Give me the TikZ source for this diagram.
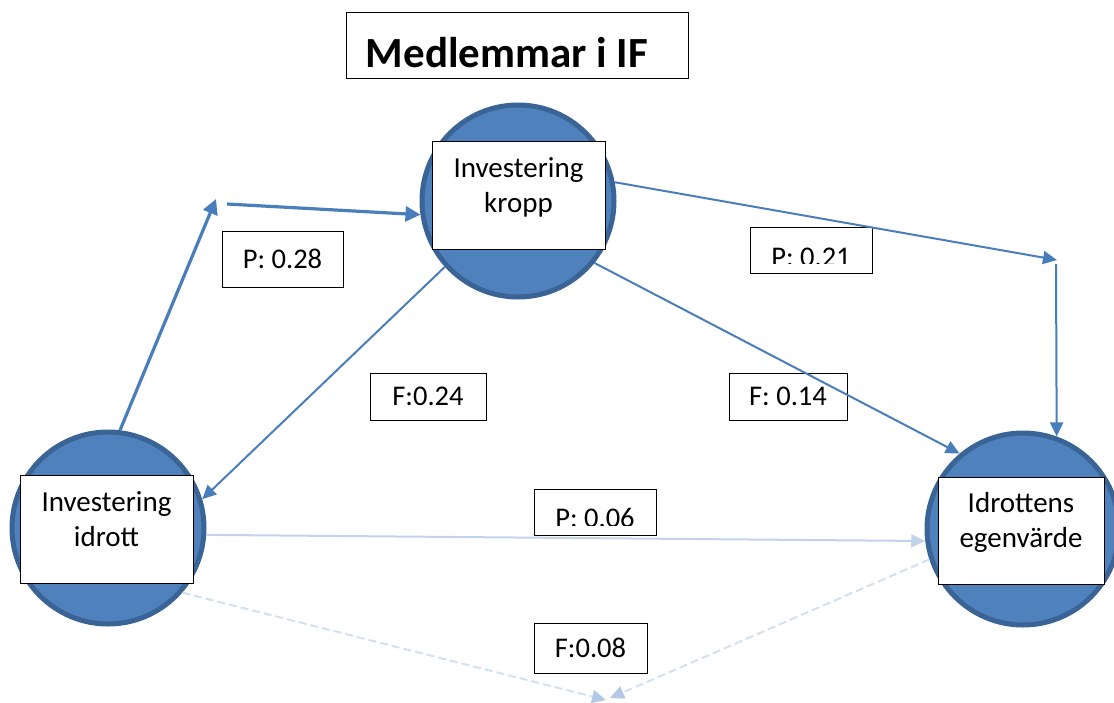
\documentclass[tikz,border=0pt]{standalone}
\usepackage{fontspec}
\setmainfont{Carlito}
\usetikzlibrary{arrows.meta,calc}

\definecolor{ballfill}{HTML}{4F81BD}
\definecolor{ballrim}{HTML}{3A6396}
\definecolor{linkblue}{HTML}{4A7EBB}
\definecolor{paleblue}{HTML}{C3D4EA}
\definecolor{fadeblue}{HTML}{D3E0F0}
\definecolor{tipblue}{HTML}{B3C8E4}

\tikzset{
  ball/.style={circle, fill=ballfill, draw=ballrim, line width=5pt, minimum size=192pt, inner sep=0pt},
  namebox/.style={rectangle, draw=black, fill=white, line width=1pt, align=center,
    font=\fontsize{29}{35}\selectfont, text height=54pt, text depth=20pt, inner sep=0pt},
  valbox/.style={rectangle, draw=black, fill=white, line width=1pt, inner sep=0pt,
    font=\fontsize{28.5}{34}\selectfont},
  titlebox/.style={rectangle, draw=black, fill=white, line width=1pt, inner sep=0pt,
    font=\fontsize{43}{50}\selectfont\bfseries},
  link/.style={draw=linkblue, line width=2pt, -{Triangle[width=13pt,length=14pt]}},
  boldlink/.style={draw=linkblue, line width=3.2pt, -{Triangle[width=15pt,length=15pt]}},
  palelink/.style={draw=paleblue, line width=2pt, -{Triangle[width=13pt,length=14pt]}},
  fadelink/.style={draw=fadeblue, line width=2pt, dash pattern=on 8pt off 4pt,
    -{Triangle[width=13pt,length=14pt,color=tipblue]}},
}

\begin{document}
\begin{tikzpicture}[x=1pt,y=-1pt]
\useasboundingbox (0,0) rectangle (1114,702);

% title
\node[titlebox, minimum width=342pt, minimum height=66pt] (title) at (517,45) {};
\node[font=\fontsize{43}{50}\selectfont\bfseries, anchor=base, inner sep=0pt] at (507,67) {Medlemmar i IF};

% the three factors
\node[ball] (kc) at (518,201) {};
\node[ball] (lc) at (108,528) {};
\node[ball] (rc) at (1023,529) {};

\node[namebox, minimum width=173pt, minimum height=108pt] (kb) at (518.5,195) {Investering\\kropp};
\node[namebox, minimum width=173pt, minimum height=108pt] (lb) at (106.5,529) {Investering\\idrott};
\node[namebox, minimum width=166pt, minimum height=107pt] (rb) at (1021,530.5) {Idrottens\\egenvärde};

% coefficient labels
\node[valbox, minimum width=121pt, minimum height=56pt] (p28) at (282.5,259) {P: 0.28};
\node[valbox, minimum width=116pt, minimum height=47pt] (f24) at (428,396.5) {F:0.24};
\node[valbox, minimum width=118pt, minimum height=47pt] (f14) at (788,396.5) {F: 0.14};
\node[valbox, minimum width=113pt, minimum height=50pt] (f08) at (590.5,648) {F:0.08};

\node[valbox, minimum width=122pt, minimum height=46pt] (p21) at (811,250) {};
\begin{scope}
  \clip ($(p21.north west)+(1,1)$) rectangle ($(p21.south east)+(-1,-10)$);
  \node[font=\fontsize{28.5}{34}\selectfont, anchor=base, inner sep=0pt] at (811,266) {P: 0.21};
\end{scope}

\node[valbox, minimum width=122pt, minimum height=46pt] (p06) at (595,512) {};
\begin{scope}
  \clip ($(p06.north west)+(1,1)$) rectangle ($(p06.south east)+(-1,-10)$);
  \node[font=\fontsize{28.5}{34}\selectfont, anchor=base, inner sep=0pt] at (595,527) {P: 0.06};
\end{scope}

% corner points of the bent connectors
\coordinate (c1) at (216,199);
\coordinate (c2) at (1057,260);
\coordinate (c3) at (606,700);
\coordinate (c4) at (610,698);

% connectors
\draw[boldlink] (lc.83) -- (c1);
\draw[boldlink] ($(c1)+(11,5)$) -- (kc.188);
\draw[link] (kc.11) -- (c2);
\draw[link] ($(c2)+(-1,4)$) -- (rc.70);
\draw[link] (kc.222) -- (lc.17);
\draw[link] (kc.321) -- (rc.130);
\draw[palelink] (lc.-4) -- (rc.187);
\draw[fadelink] (lc.-41) -- (c3);
\draw[fadelink] (rc.198) -- (c4);
\end{tikzpicture}
\end{document}
